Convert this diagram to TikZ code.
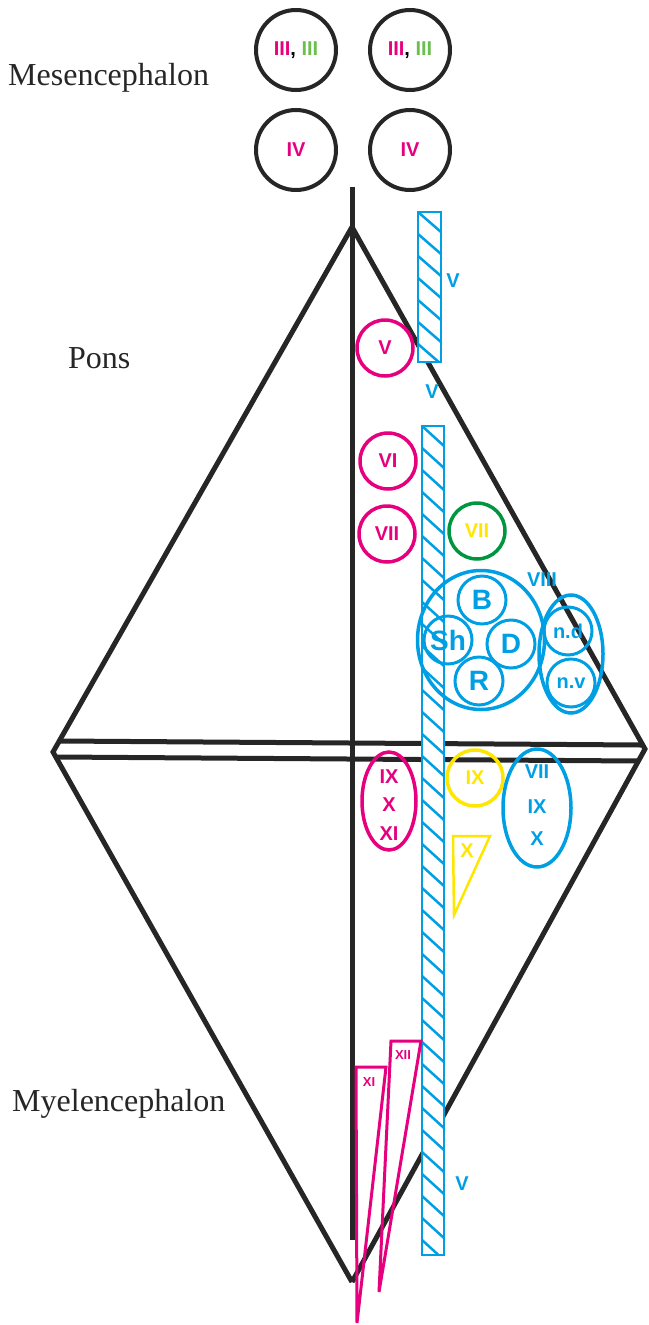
\documentclass[tikz,border=0pt]{standalone}
\usepackage{fontspec}
\setmainfont{Liberation Serif}
\setsansfont{Liberation Sans}
\usetikzlibrary{shapes.geometric}
\definecolor{nmag}{RGB}{230,0,126}
\definecolor{nblue}{RGB}{0,159,227}
\definecolor{nyel}{RGB}{255,230,0}
\definecolor{ngreen}{RGB}{0,150,64}
\definecolor{nlgreen}{RGB}{108,190,80}
\definecolor{nblack}{RGB}{38,38,38}

\begin{document}
\begin{tikzpicture}[x=1pt,y=-1pt,
  lab/.style={font=\sffamily\bfseries\fontsize{20}{22}\selectfont,inner sep=0pt},
  biglab/.style={font=\sffamily\bfseries\fontsize{28}{30}\selectfont,inner sep=0pt},
  smalllab/.style={font=\sffamily\bfseries\fontsize{13}{14}\selectfont,inner sep=0pt},
  topnuc/.style={lab,circle,draw=nblack,line width=4pt,minimum size=80pt},
  nuc/.style={lab,circle,line width=3.5pt,minimum size=56pt},
  subnuc/.style={circle,draw=nblue,line width=3pt,minimum size=48pt,text=nblue},
  region/.style={font=\fontsize{32}{36}\selectfont,anchor=base west,inner sep=0pt,text=nblack},
  brain/.style={draw=nblack,line width=5pt},
  bar/.style={draw=nblue,line width=2.5pt}
]
\useasboundingbox (0,0) rectangle (648,1325);

% regions
\node[region] (mes) at (8,85) {Mesencephalon};
\node[region] (pons) at (68,368) {Pons};
\node[region] (mye) at (12,1111) {Myelencephalon};

% mesencephalic nuclei
\node[topnuc] (oculoL) at (296,50) {\textcolor{nmag}{III}, \textcolor{nlgreen}{III}};
\node[topnuc] (oculoR) at (410,50) {\textcolor{nmag}{III}, \textcolor{nlgreen}{III}};
\node[topnuc,text=nmag] (trochL) at (296,150) {IV};
\node[topnuc,text=nmag] (trochR) at (410,150) {IV};

% rhombencephalon outline
\draw[brain] (352,187) -- (352,1240);
\draw[brain,line join=miter] (352,227) -- (53,752) -- (352,1282);
\draw[brain,line join=miter] (352,227) -- (645,749) -- (352,1282);
\draw[brain] (59,741) -- (641,745);
\draw[brain] (57,757) -- (639,761);

% trigeminal columns
\fill[white] (418,212) rectangle (441,362);
\begin{scope}
\clip (418,212) rectangle (441,362);
\foreach \y in {190,212,...,370}
  \draw[bar] (418,\y) -- (441,\y+20);
\end{scope}
\draw[bar] (418,212) rectangle (441,362);

\fill[white] (422,426) rectangle (444,1255);
\begin{scope}
\clip (422,426) rectangle (444,1255);
\foreach \y in {404,426,...,1260}
  \draw[bar] (422,\y) -- (444,\y+20);
\end{scope}
\draw[bar] (422,426) rectangle (444,1255);

\node[lab,text=nblue] (vA) at (453,281) {V};
\node[lab,text=nblue] (vB) at (432,392) {V};
\node[lab,text=nblue] (vC) at (462,1184) {V};

% pontine nuclei
\node[nuc,draw=nmag,text=nmag] (motV) at (385,348) {V};
\node[nuc,draw=nmag,text=nmag] (abd) at (388,461) {VI};
\node[nuc,draw=nmag,text=nmag] (fac) at (387,534) {VII};
\node[nuc,draw=ngreen,text=nyel] (salsup) at (477,531) {VII};

% vestibulocochlear
\node[ellipse,draw=nblue,line width=3.5pt,minimum width=127pt,minimum height=139pt] (vest) at (481,640) {};
\node[subnuc,biglab] (bech) at (482,600) {B};
\node[subnuc,biglab] (schw) at (448,640) {Sh};
\node[subnuc,biglab] (deit) at (511,644) {D};
\node[subnuc,biglab] (roll) at (479,681) {R};
\node[lab,text=nblue] (viii) at (542,580) {VIII};
\node[ellipse,draw=nblue,line width=3.5pt,minimum width=64pt,minimum height=118pt] (coch) at (571,654) {};
\node[subnuc,lab] (nd) at (568,631) {n.d};
\node[subnuc,lab] (nv) at (571,683) {n.v};

% medullary nuclei
\node[ellipse,draw=nmag,line width=3.5pt,minimum width=54pt,minimum height=98pt] (amb) at (389,801) {};
\node[lab,text=nmag] (ambA) at (389,777) {IX};
\node[lab,text=nmag] (ambB) at (389,805) {X};
\node[lab,text=nmag] (ambC) at (389,834) {XI};
\node[nuc,draw=nyel,text=nyel] (salinf) at (475,778) {IX};
\node[ellipse,draw=nblue,line width=3.5pt,minimum width=68pt,minimum height=118pt] (sol) at (537,808) {};
\node[lab,text=nblue] (solA) at (537,772) {VII};
\node[lab,text=nblue] (solB) at (537,807) {IX};
\node[lab,text=nblue] (solC) at (537,839) {X};
\draw[nyel,line width=2.5pt,line join=miter] (453,836) -- (490,836) -- (454,915) -- cycle;
\node[lab,text=nyel] (dorsX) at (467,851) {X};

% accessory and hypoglossal
\draw[nmag,line width=3pt,line join=miter] (356,1067) -- (386,1067) -- (357,1323) -- cycle;
\node[smalllab,text=nmag] (acc) at (369,1082) {XI};
\draw[nmag,line width=3pt,line join=miter] (391,1041) -- (421,1041) -- (379,1292) -- cycle;
\node[smalllab,text=nmag] (hyp) at (403,1055) {XII};

\end{tikzpicture}
\end{document}
